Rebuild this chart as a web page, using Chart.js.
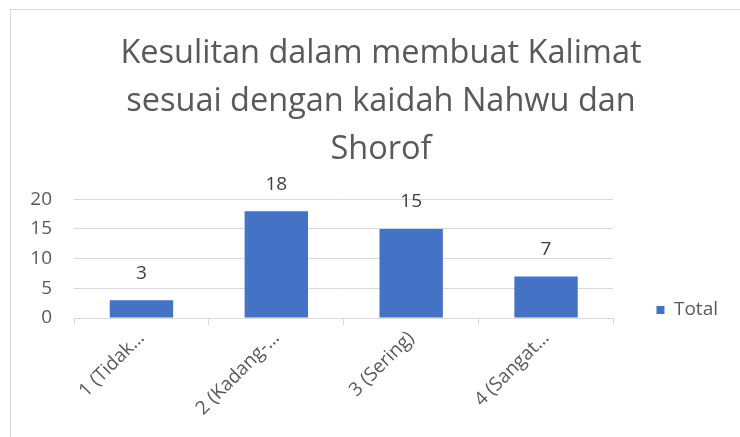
<!DOCTYPE html>
<html>
<head>
<meta charset="utf-8">
<script src="https://cdn.jsdelivr.net/npm/chart.js@4.4.1/dist/chart.umd.min.js"></script>
<style>
    html, body { margin: 0; padding: 0; background: #ffffff; }
    #wrap { width: 740px; height: 437px; position: relative; }
</style>
</head>
<body>
<div id="wrap"><canvas id="chart" width="740" height="437"></canvas></div>
<script>
var titleLines = ['Kesulitan dalam membuat Kalimat', 'sesuai dengan kaidah Nahwu dan', 'Shorof'];
var categories = ['1 (Tidak\u2026', '2 (Kadang-\u2026', '3 (Sering)', '4 (Sangat\u2026'];
var totalValues = [3, 18, 15, 7];
var yTicks = [0, 5, 10, 15, 20];

var textColor = '#595959';
var gridColor = '#d9d9d9';

// outer frame of the chart object (cut off on the right and bottom)
var framePlugin = {
    id: 'frame',
    afterLayout: function (chart) {
        // centre the title on the whole chart object, not on the padded box
        if (chart.titleBlock) {
            chart.titleBlock.left = 34;
        }
    },
    beforeDraw: function (chart) {
        var ctx = chart.ctx;
        ctx.save();
        ctx.strokeStyle = gridColor;
        ctx.lineWidth = 1;
        ctx.strokeRect(10.5, 9.5, 800, 500);
        ctx.restore();
    }
};

// value labels above each bar
var valueLabels = {
    id: 'valueLabels',
    afterDatasetsDraw: function (chart) {
        var ctx = chart.ctx;
        var meta = chart.getDatasetMeta(0);
        ctx.save();
        ctx.font = '19px "Open Sans"';
        ctx.fillStyle = '#404040';
        ctx.textAlign = 'center';
        ctx.textBaseline = 'middle';
        meta.data.forEach(function (bar, i) {
            ctx.fillText(totalValues[i], bar.x, bar.y - 27);
        });
        ctx.restore();
    }
};

new Chart(document.getElementById('chart').getContext('2d'), {
    type: 'bar',
    data: {
        labels: categories,
        datasets: [{
            label: 'Total',
            data: totalValues,
            backgroundColor: '#4472c4',
            borderWidth: 0,
            categoryPercentage: 1,
            barPercentage: 0.47
        }]
    },
    options: {
        responsive: false,
        animation: false,
        layout: {
            padding: { left: 22, right: 12, top: 0, bottom: 0 }
        },
        scales: {
            x: {
                grid: {
                    offset: true,
                    drawOnChartArea: false,
                    drawTicks: true,
                    tickLength: 7,
                    color: gridColor
                },
                border: { color: gridColor },
                ticks: {
                    minRotation: 45,
                    maxRotation: 45,
                    autoSkip: false,
                    padding: 2,
                    color: textColor,
                    font: { family: 'Open Sans', size: 19 }
                },
                afterFit: function (s) { s.height = 119; }
            },
            y: {
                min: 0,
                max: 20,
                afterBuildTicks: function (s) {
                    s.ticks = yTicks.map(function (v) { return { value: v }; });
                },
                grid: { color: gridColor, drawTicks: false },
                border: { display: false },
                ticks: {
                    padding: 22,
                    color: textColor,
                    font: { family: 'Open Sans', size: 19 }
                },
                afterFit: function (s) { s.width = 52; }
            }
        },
        plugins: {
            title: {
                display: true,
                text: titleLines,
                color: textColor,
                font: { family: 'Open Sans', size: 32.5, weight: 'normal', lineHeight: 1.47 },
                padding: { top: 30, bottom: 26 }
            },
            legend: {
                position: 'right',
                align: 'center',
                title: {
                    display: true,
                    text: '',
                    font: { size: 12, lineHeight: 1 },
                    padding: { top: 171, bottom: 0 }
                },
                labels: {
                    boxWidth: 8,
                    boxHeight: 8,
                    padding: 43,
                    color: textColor,
                    font: { family: 'Open Sans', size: 19 }
                }
            },
            tooltip: { enabled: false }
        }
    },
    plugins: [framePlugin, valueLabels]
});
</script>
</body>
</html>
